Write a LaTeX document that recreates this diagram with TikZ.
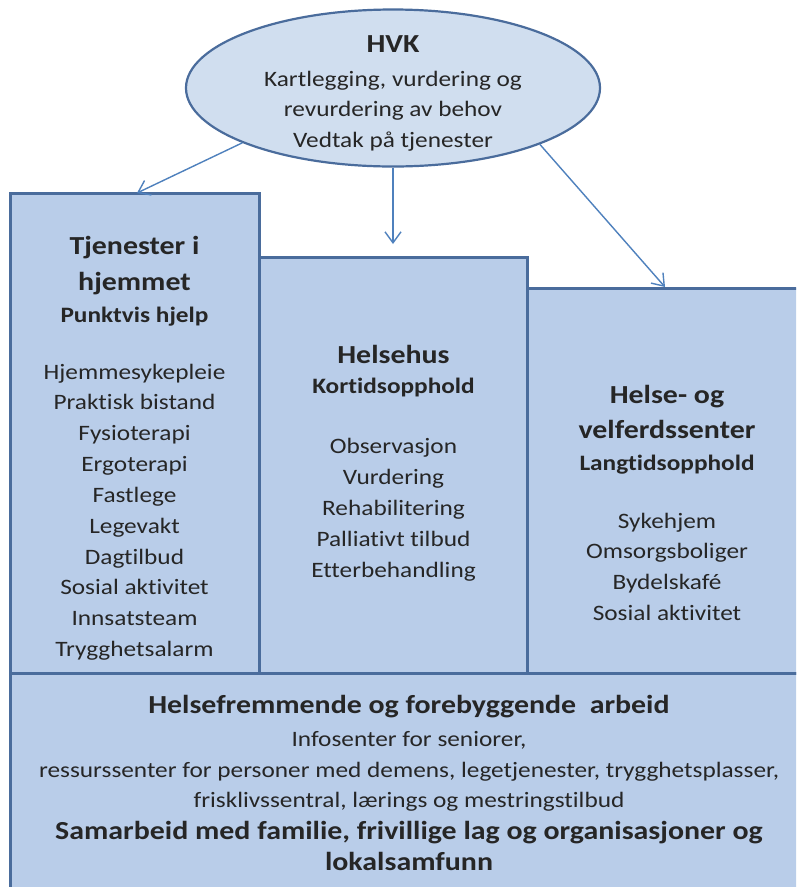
\documentclass[tikz,border=0pt]{standalone}
\usepackage{fontspec}
\setmainfont{Carlito}[FakeStretch=1.15, Ligatures={NoCommon}]
\usetikzlibrary{shapes.geometric,arrows.meta}

\definecolor{boxfill}{RGB}{185,205,233}
\definecolor{ovalfill}{RGB}{208,222,239}
\definecolor{edge}{RGB}{74,108,156}
\definecolor{arrowblue}{RGB}{79,129,189}
\definecolor{ink}{RGB}{38,38,38}

\tikzset{
  panel/.style={draw=edge, fill=boxfill, line width=3pt},
  oval/.style={ellipse, draw=edge, fill=ovalfill, line width=2.2pt, inner sep=0pt},
  arr/.style={draw=arrowblue, line width=1.4pt, -{Straight Barb[length=11pt,width=16pt,line width=1.4pt]}},
  txt/.style={anchor=base, text=ink, inner sep=0pt},
  title/.style={txt, font=\fontsize{26}{34}\selectfont\bfseries},
  sub/.style={txt, font=\fontsize{22}{28}\selectfont\bfseries},
  item/.style={txt, font=\fontsize{22}{30}\selectfont},
}

\begin{document}
\begin{tikzpicture}[x=1pt, y=-1pt]
  \useasboundingbox (0,0) rectangle (796,887);
  \clip (0,0) rectangle (796,887);
  \fill[white] (0,0) rectangle (796,887);

  % the four service areas
  \draw[panel] (10,193) rectangle (259,673);
  \draw[panel] (259,257) rectangle (527,673);
  \draw[panel] (527,288) rectangle (808,673);
  \draw[panel] (10,673) rectangle (808,905);
  \coordinate (tjtop) at (137,193);
  \coordinate (hhtop) at (393,244);
  \coordinate (hvtop) at (665,287);

  % assessment oval
  \node[oval, minimum width=414pt, minimum height=157pt] (hvk) at (393,88) {};
  \node[title] (hvkt) at (393,52) {HVK};
  \node[item] (hvk1) at (393,86) {Kartlegging, vurdering og};
  \node[item] (hvk2) at (393,116.5) {revurdering av behov};
  \node[item] (hvk3) at (393,147) {Vedtak på tjenester};

  \draw[arr] (hvk.200.8) -- (tjtop);
  \draw[arr] (hvk.south) -- (hhtop);
  \draw[arr] (hvk.339) -- (hvtop);

  % services at home
  \node[title] (tjt1) at (134.5,254) {Tjenester i};
  \node[title] (tjt2) at (134.5,290) {hjemmet};
  \node[sub] (tjs) at (134.5,322) {Punktvis hjelp};
  \foreach \t [count=\i] in {Hjemmesykepleie, Praktisk bistand, Fysioterapi,
      Ergoterapi, Fastlege, Legevakt, Dagtilbud, Sosial aktivitet,
      Innsatsteam, Trygghetsalarm}
    \node[item] (tj\i) at (134.5,{379+30.85*(\i-1)}) {\t};

  % health house
  \node[title] (hht) at (393.5,363) {Helsehus};
  \node[sub] (hhs) at (393.5,393) {Kortidsopphold};
  \foreach \t [count=\i] in {Observasjon, Vurdering, Rehabilitering,
      Palliativt tilbud, Etterbehandling}
    \node[item] (hh\i) at (393.5,{453+31*(\i-1)}) {\t};

  % health and welfare centre
  \node[title] (hvt1) at (667,403) {Helse- og};
  \node[title] (hvt2) at (667,438) {velferdssenter};
  \node[sub] (hvs) at (667,470) {Langtidsopphold};
  \foreach \t [count=\i] in {Sykehjem, Omsorgsboliger, Bydelskafé, Sosial aktivitet}
    \node[item] (hv\i) at (667,{528+30.7*(\i-1)}) {\t};

  % health promotion and prevention
  \node[title] (bt1) at (409,713) {Helsefremmende og forebyggende\ \ arbeid};
  \node[item] (b1) at (409,746) {Infosenter for seniorer,};
  \node[item] (b2) at (409,777) {ressurssenter for personer med demens, legetjenester, trygghetsplasser,};
  \node[item] (b3) at (409,807) {frisklivssentral, lærings og mestringstilbud};
  \node[title] (bt2) at (409,839) {Samarbeid med familie, frivillige lag og organisasjoner og};
  \node[title] (bt3) at (409,870) {lokalsamfunn};
\end{tikzpicture}
\end{document}
